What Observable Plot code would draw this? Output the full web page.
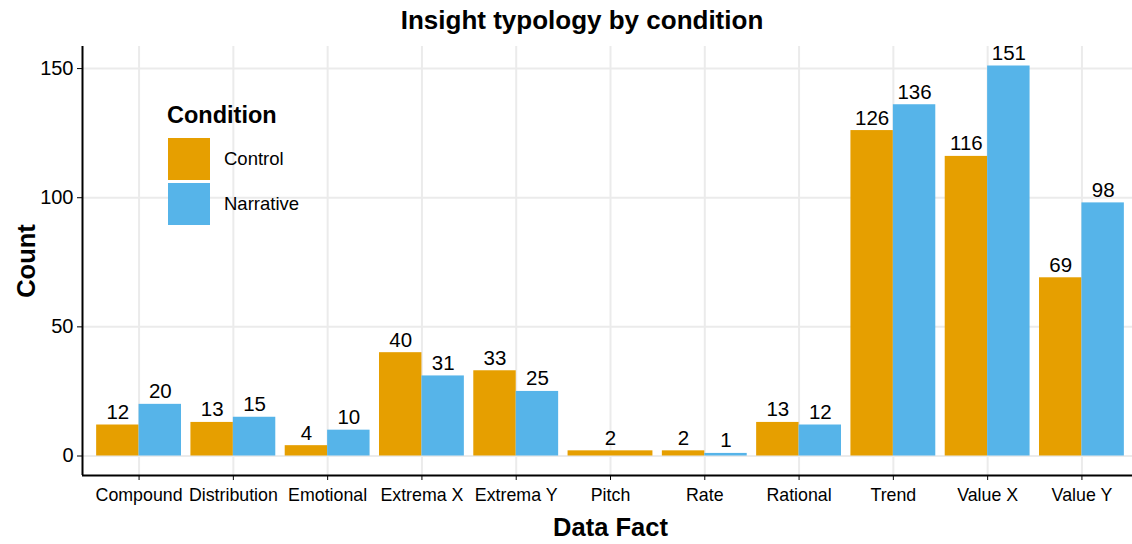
<!DOCTYPE html>
<html>
<head>
<meta charset="utf-8">
<script src="https://cdn.jsdelivr.net/npm/d3@7"></script>
<script src="https://cdn.jsdelivr.net/npm/@observablehq/plot@0.6"></script>
<style>
  html, body { margin: 0; padding: 0; background: #fff; }
  body { font-family: "Liberation Sans", Arial, sans-serif; width: 1132px; height: 544px; position: relative; overflow: hidden; }
  #title { position: absolute; top: 3px; left: 332px; width: 500px; text-align: center; font-size: 26px; font-weight: bold; color: #000; line-height: 34px; }
  #chart { position: absolute; top: 40px; left: 0; }
  #legend { position: absolute; left: 167px; top: 99px; color: #000; }
  #legend .lt { font-size: 23.5px; font-weight: bold; height: 39px; line-height: 32px; }
  #legend .row { display: flex; align-items: center; height: 42px; margin-bottom: 3px; }
  #legend .sw { width: 42px; height: 42px; margin-left: 1px; margin-right: 14px; }
  #legend .lab { font-size: 18.5px; }
  g[aria-label="x-axis label"] text, g[aria-label="y-axis label"] text { font-weight: bold; font-size: 25.5px; fill: #000; }
</style>
</head>
<body>
<div id="title">Insight typology by condition</div>
<div id="chart"></div>
<div id="legend"></div>
<script>
const categories = ["Compound","Distribution","Emotional","Extrema X","Extrema Y","Pitch","Rate","Rational","Trend","Value X","Value Y"];
const conditions = ["Control","Narrative"];
const controlCounts = [12,13,4,40,33,2,2,13,126,116,69];
const narrativeCounts = [20,15,10,31,25,null,1,12,136,151,98];
const colors = ["#E69F00","#56B4E9"];
const yTicks = [0,50,100,150];

// dodge (ggplot position_dodge style): bars share a 0.9-wide slot per category
const rows = [];
categories.forEach((c, i) => {
  const present = [];
  if (controlCounts[i] != null) present.push({cond: "Control", v: controlCounts[i]});
  if (narrativeCounts[i] != null) present.push({cond: "Narrative", v: narrativeCounts[i]});
  const w = 0.9 / present.length;
  present.forEach((p, k) => {
    const x1 = i - 0.45 + k * w;
    rows.push({category: c, condition: p.cond, value: p.v, x1, x2: x1 + w, xm: x1 + w / 2});
  });
});

const yMax = d3.max(rows, d => d.value);
const yPad = yMax * 0.05;
const yDom = [-yPad, yMax + yPad];
const xDom = [-0.6, categories.length - 0.4];

const chart = Plot.plot({
  width: 1138,
  height: 504,
  marginLeft: 82,
  marginRight: 0,
  marginTop: 6,
  marginBottom: 69,
  style: {fontFamily: "Liberation Sans, Arial, sans-serif", background: "transparent", overflow: "visible", maxWidth: "none"},
  x: {domain: xDom, label: null},
  y: {domain: yDom, label: null},
  color: {domain: conditions, range: colors},
  marks: [
    Plot.gridY(yTicks, {stroke: "#ebebeb", strokeOpacity: 1, strokeWidth: 2}),
    Plot.gridX(d3.range(categories.length), {stroke: "#ebebeb", strokeOpacity: 1, strokeWidth: 2}),
    Plot.rectY(rows, {x1: "x1", x2: "x2", y1: 0, y2: "value", fill: "condition"}),
    Plot.text(rows, {x: "xm", y: "value", text: d => String(d.value), lineAnchor: "bottom", dy: -6, fontSize: 20.5, fill: "#000"}),
    Plot.ruleX([xDom[0]], {y1: yDom[0], y2: yDom[1], stroke: "#000", strokeWidth: 2}),
    Plot.ruleY([yDom[0]], {x1: xDom[0], x2: xDom[1], stroke: "#000", strokeWidth: 2}),
    Plot.axisY({ticks: yTicks, tickSize: 5, tickPadding: 4, fontSize: 20, color: "#000", label: "Count", labelAnchor: "center", labelArrow: "none", labelOffset: 66}),
    Plot.axisX({ticks: d3.range(categories.length), tickFormat: i => categories[i], tickSize: 5, tickPadding: 8, fontSize: 17.8, color: "#000", label: "Data Fact", labelAnchor: "center", labelArrow: "none", labelOffset: 60})
  ]
});
document.getElementById("chart").appendChild(chart);

const leg = document.getElementById("legend");
leg.innerHTML = `<div class="lt">Condition</div>` + conditions.map((c, i) =>
  `<div class="row"><div class="sw" style="background:${colors[i]}"></div><div class="lab">${c}</div></div>`).join("");
</script>
</body>
</html>
